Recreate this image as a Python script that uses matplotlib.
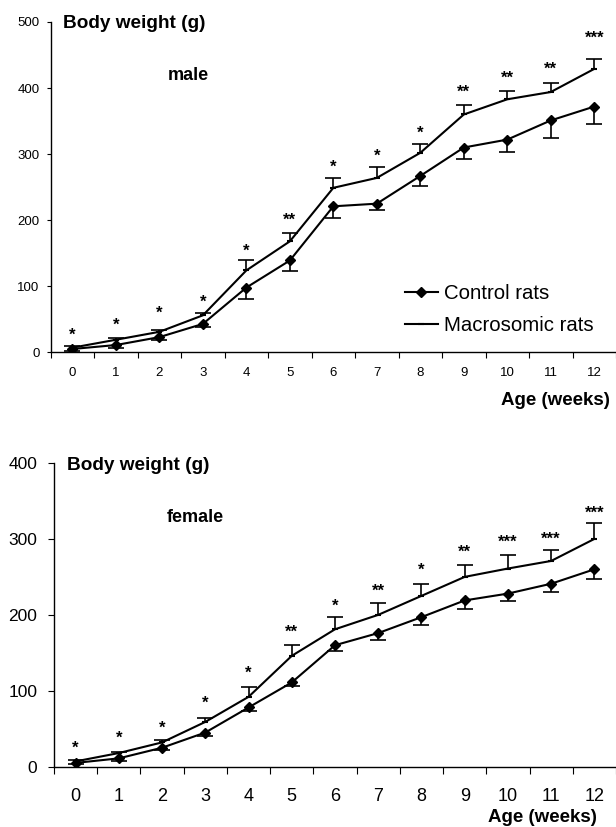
import matplotlib
matplotlib.use("Agg")
import matplotlib.pyplot as plt
from matplotlib.lines import Line2D
import numpy as np

plt.rcParams['font.family'] = ['Liberation Sans', 'DejaVu Sans']

weeks = list(range(13))
week_labels = [str(w) for w in weeks]

# Male
male_ctrl = [5, 11, 23, 43, 98, 139, 221, 225, 267, 310, 322, 351, 372]
male_ctrl_err = [3, 4, 5, 5, 18, 16, 18, 9, 16, 17, 19, 27, 27]
male_macro = [7, 19, 31, 56, 124, 168, 249, 264, 302, 360, 383, 394, 429]
male_macro_err = [2, 2, 3, 3, 15, 12, 15, 17, 14, 15, 13, 14, 15]
male_sig = ['*', '*', '*', '*', '*', '**', '*', '*', '*', '**', '**', '**', '***']
male_sig_y = [33, 48, 67, 84, 161, 208, 288, 305, 340, 402, 422, 437, 483]

# Female
fem_ctrl = [5, 11, 25, 45, 78, 111, 160, 176, 197, 219, 228, 241, 260]
fem_ctrl_err = [2, 3, 3, 4, 5, 5, 8, 9, 10, 11, 10, 11, 13]
fem_macro = [7, 18, 32, 59, 92, 146, 181, 200, 225, 250, 261, 271, 300]
fem_macro_err = [2, 2, 3, 5, 13, 14, 16, 16, 15, 15, 18, 15, 21]
fem_sig = ['*', '*', '*', '*', '*', '**', '*', '**', '*', '**', '***', '***', '***']
fem_sig_y = [31, 44, 58, 90, 130, 184, 218, 238, 265, 289, 302, 307, 341]

W, H = 616, 827
fig = plt.figure(figsize=(W / 100, H / 100), dpi=100)


def fx(px):
    return px / W


def fy(py):
    return 1 - py / H


def panel(rect, xright, ymax, yticks, ctrl, ctrl_err, macro, macro_err, sig, sig_y,
          ytick_fs, xtick_fs, ytick_pad, xtick_pad, xtick_len, ytick_len):
    ax = fig.add_axes(rect)
    ax.set_xlim(-0.5, xright)
    ax.set_ylim(0, ymax)
    for s in ['top', 'right']:
        ax.spines[s].set_visible(False)
    for s in ['left', 'bottom']:
        ax.spines[s].set_linewidth(1.0)
    ax.set_yticks(yticks)
    ax.tick_params(axis='y', direction='out', length=ytick_len, width=0.8,
                   labelsize=ytick_fs, pad=ytick_pad)
    ax.set_xticks(weeks)
    ax.set_xticklabels(week_labels)
    ax.tick_params(axis='x', which='major', length=0, labelsize=xtick_fs, pad=xtick_pad)
    ax.set_xticks(np.arange(-0.5, 12.6, 1.0), minor=True)
    ax.tick_params(axis='x', which='minor', direction='out', length=xtick_len, width=0.8)

    lo = [0] * len(weeks)
    eb = ax.errorbar(weeks, ctrl, yerr=[ctrl_err, lo], fmt='none', ecolor='black',
                     elinewidth=1.2, capsize=5.5, capthick=1.2, zorder=2)
    eb[1][1].set_visible(False)
    ax.plot(weeks, ctrl, color='black', lw=1.5, marker='D', markersize=5.5,
            markerfacecolor='black', zorder=3)
    eb = ax.errorbar(weeks, macro, yerr=[lo, macro_err], fmt='none', ecolor='black',
                     elinewidth=1.2, capsize=5.5, capthick=1.2, zorder=2)
    eb[1][0].set_visible(False)
    ax.plot(weeks, macro, color='black', lw=1.5, marker='_', markersize=4,
            markeredgewidth=1.5, zorder=3)
    fs = 12
    for w, s, y in zip(weeks, sig, sig_y):
        ax.annotate(s, (w, y), xytext=(0, -0.58 * fs), textcoords='offset points',
                    ha='center', va='baseline', fontsize=fs, fontweight='bold',
                    annotation_clip=False)
    return ax


top_left, top_sp = 50.7, 44.2
ax1 = panel([fx(top_left), fy(352.3), fx(W - top_left), fy(22) - fy(352.3)],
            -0.5 + (W - top_left) / top_sp, 500, [0, 100, 200, 300, 400, 500],
            male_ctrl, male_ctrl_err, male_macro, male_macro_err, male_sig, male_sig_y,
            ytick_fs=9.5, xtick_fs=9.5, ytick_pad=5, xtick_pad=10.5, xtick_len=4, ytick_len=3)

bot_left, bot_sp = 54, 43.58
ax2 = panel([fx(bot_left), fy(766.7), fx(W - bot_left), fy(463) - fy(766.7)],
            -0.5 + (W - bot_left) / bot_sp, 400, [0, 100, 200, 300, 400],
            fem_ctrl, fem_ctrl_err, fem_macro, fem_macro_err, fem_sig, fem_sig_y,
            ytick_fs=12.5, xtick_fs=13, ytick_pad=8, xtick_pad=15, xtick_len=5, ytick_len=4)

fig.text(fx(63), fy(23), 'Body weight (g)', fontsize=13.7, fontweight='bold',
         ha='left', va='center')
fig.text(fx(188), fy(75), 'male', fontsize=13, fontweight='bold', ha='center', va='center')
fig.text(fx(610), fy(405), 'Age (weeks)', fontsize=13.5, fontweight='bold',
         ha='right', va='baseline')

fig.text(fx(67), fy(465), 'Body weight (g)', fontsize=13.7, fontweight='bold',
         ha='left', va='center')
fig.text(fx(195), fy(517), 'female', fontsize=13, fontweight='bold', ha='center', va='center')
fig.text(fx(597), fy(822), 'Age (weeks)', fontsize=13.5, fontweight='bold',
         ha='right', va='baseline')

handles = [Line2D([], [], color='black', lw=1.5, marker='D', markersize=5.5),
           Line2D([], [], color='black', lw=1.5, marker='_', markersize=4, markeredgewidth=1.5)]
fig.legend(handles, ['Control rats', 'Macrosomic rats'], loc='upper left',
           bbox_to_anchor=(fx(405), fy(284)), frameon=False, fontsize=14.7,
           borderpad=0, borderaxespad=0, handlelength=1.6, handletextpad=0.3,
           labelspacing=0.62)

fig.savefig('out.png', dpi=100)
